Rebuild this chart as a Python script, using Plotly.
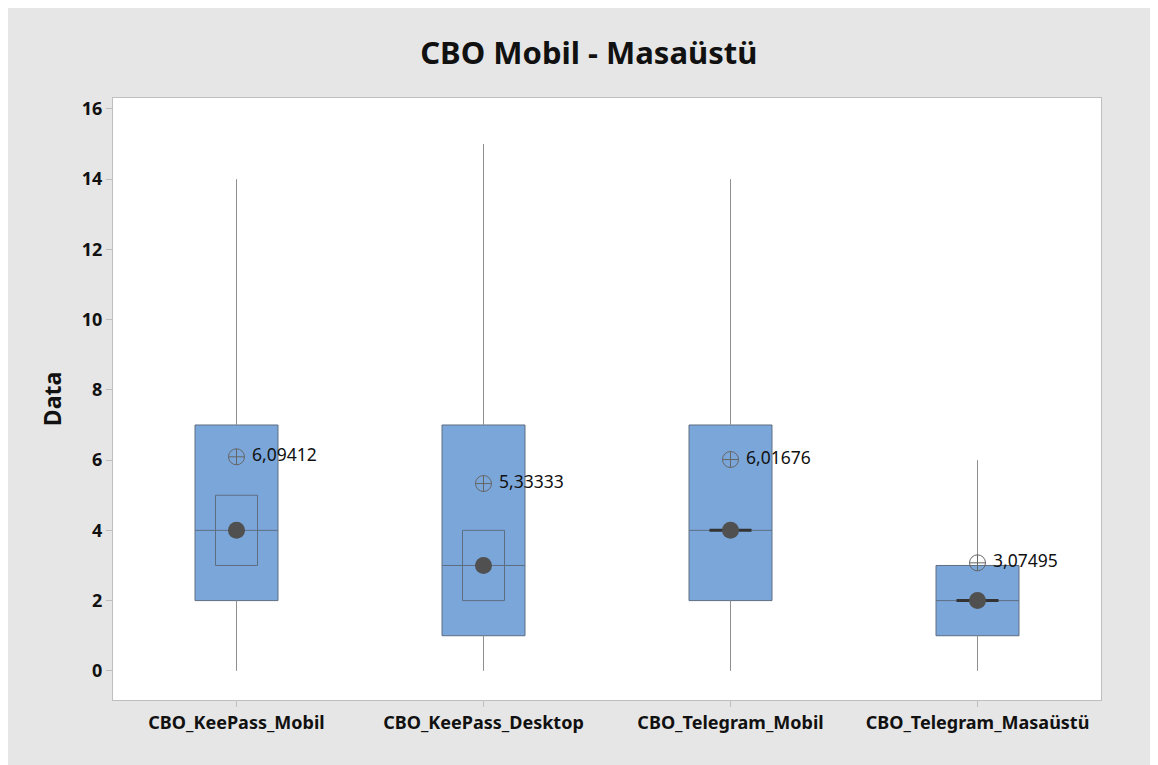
import plotly.graph_objects as go

categories = ["CBO_KeePass_Mobil", "CBO_KeePass_Desktop", "CBO_Telegram_Mobil", "CBO_Telegram_Masaüstü"]
q1 = [2, 1, 2, 1]
median = [4, 3, 4, 2]
q3 = [7, 7, 7, 3]
whisk_low = [0, 0, 0, 0]
whisk_high = [14, 15, 14, 6]
means = [6.09412, 5.33333, 6.01676, 3.07495]
mean_labels = ["6,09412", "5,33333", "6,01676", "3,07495"]
ci_low = [3, 2, 4, 2]
ci_high = [5, 4, 4, 2]
y_ticks = [0, 2, 4, 6, 8, 10, 12, 14, 16]

FONT = "Noto Sans"
pos = list(range(len(categories)))

fig = go.Figure()

# whiskers
for i in pos:
    fig.add_trace(go.Scatter(x=[i, i, None, i, i], y=[whisk_low[i], q1[i], None, q3[i], whisk_high[i]],
                             mode="lines", line=dict(color="#8f8f8f", width=1), hoverinfo="skip", showlegend=False))

fig.add_trace(go.Box(x=pos, q1=q1, median=median, q3=q3, lowerfence=q1, upperfence=q3,
                     width=0.336, whiskerwidth=0, fillcolor="#7BA6D9",
                     line=dict(color="#5E6E82", width=1), boxpoints=False, showlegend=False,
                     hoverinfo="skip"))

# median CI boxes
hw = 0.085
for i in pos:
    if ci_high[i] > ci_low[i]:
        fig.add_trace(go.Scatter(x=[i - hw, i + hw, i + hw, i - hw, i - hw],
                                 y=[ci_low[i], ci_low[i], ci_high[i], ci_high[i], ci_low[i]],
                                 mode="lines", line=dict(color="#5E6E82", width=1),
                                 hoverinfo="skip", showlegend=False))
    else:
        fig.add_trace(go.Scatter(x=[i - hw, i + hw], y=[ci_low[i], ci_high[i]],
                                 mode="lines", line=dict(color="#333333", width=3),
                                 hoverinfo="skip", showlegend=False))

# median dots
fig.add_trace(go.Scatter(x=pos, y=median, mode="markers",
                         marker=dict(symbol="circle", size=17, color="#505050"),
                         hoverinfo="skip", showlegend=False))

# mean symbols with labels
fig.add_trace(go.Scatter(x=pos, y=means, mode="markers+text", text=["\u00a0" + t for t in mean_labels],
                         textposition="middle right",
                         textfont=dict(family=FONT, size=17.5, color="#111111"),
                         marker=dict(symbol="circle-cross-open", size=16, color="#666666", line=dict(width=1)),
                         hoverinfo="skip", showlegend=False))

fig.update_layout(
    width=1150, height=757,
    paper_bgcolor="#E6E6E6", plot_bgcolor="white",
    margin=dict(l=105, r=57, t=90, b=65),
    title=dict(text="<b>CBO Mobil - Masaüstü</b>", x=0.505, xanchor="center", y=0.94, yanchor="middle",
               font=dict(family=FONT, size=31, color="#111111")),
    font=dict(family=FONT, color="#111111"),
)
fig.update_xaxes(range=[-0.5, 3.5], tickvals=pos, ticktext=["<b>%s</b>" % c for c in categories],
                 tickfont=dict(family=FONT, size=18), showgrid=False, zeroline=False,
                 showline=True, linecolor="#BFBFBF", mirror=True,
                 ticks="outside", ticklen=6, tickcolor="#BFBFBF")
fig.update_yaxes(range=[-0.83, 16.31], tickvals=y_ticks, ticktext=["<b>%d</b>" % t for t in y_ticks],
                 tickfont=dict(family=FONT, size=18), showgrid=False, zeroline=False,
                 showline=True, linecolor="#BFBFBF", mirror=True,
                 ticks="outside", ticklen=6, tickcolor="#BFBFBF",
                 title=dict(text="<b>Data</b>", font=dict(family=FONT, size=23), standoff=13))

fig.write_html("out.html")
